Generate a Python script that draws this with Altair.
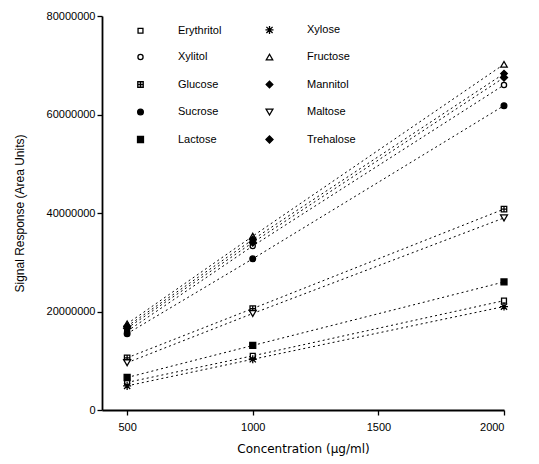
import altair as alt
import pandas as pd

concentrations = [500, 1000, 2000]

# Signal responses (area units), per sugar, at 500 / 1000 / 2000 ug/ml
erythritol = [5.6e6, 11.0e6, 22.2e6]
xylitol = [16.0e6, 33.3e6, 66.0e6]
glucose = [10.6e6, 20.6e6, 40.8e6]
sucrose = [15.5e6, 30.7e6, 61.8e6]
lactose = [6.6e6, 13.1e6, 26.0e6]
xylose = [4.9e6, 10.3e6, 21.0e6]
fructose = [17.5e6, 35.3e6, 70.2e6]
mannitol = [17.0e6, 34.6e6, 68.3e6]
maltose = [9.6e6, 19.6e6, 39.0e6]
trehalose = [16.6e6, 34.0e6, 67.5e6]

series = {
    "Erythritol": erythritol, "Xylitol": xylitol, "Glucose": glucose,
    "Sucrose": sucrose, "Lactose": lactose,
    "Xylose": xylose, "Fructose": fructose, "Mannitol": mannitol,
    "Maltose": maltose, "Trehalose": trehalose,
}
order = list(series.keys())

shapes = [
    "square",
    "circle",
    "M-1,-1H1V1H-1ZM0,-1V1M-1,0H1",
    "circle",
    "square",
    "M-1,-1L1,1M1,-1L-1,1M0,-1.3V1.3M-1.3,0H1.3",
    "triangle-up",
    "diamond",
    "triangle-down",
    "diamond",
]
fills = ["white", "white", "white", "black", "black",
         "black", "white", "black", "white", "black"]
sizes = [24, 50, 50, 50, 50, 50, 50, 50, 50, 60]

rows = []
for name, vals in series.items():
    for c, v in zip(concentrations, vals):
        rows.append({"Sugar": name, "Concentration": c, "Signal": v})
df = pd.DataFrame(rows)

FONT = "Liberation Sans"

x = alt.X("Concentration:Q",
          scale=alt.Scale(domain=[400, 2000], nice=False, zero=False),
          axis=alt.Axis(values=[500, 1000, 1500, 2000], format="d",
                        title="Concentration (µg/ml)", titleFont="DejaVu Sans",
                        titleFontWeight="normal", titleFontSize=12,
                        titlePadding=11, labelPadding=6))
y = alt.Y("Signal:Q",
          scale=alt.Scale(domain=[0, 80000000], nice=False),
          axis=alt.Axis(values=[0, 20000000, 40000000, 60000000, 80000000],
                        format="d", title="Signal Response (Area Units)",
                        titleFontWeight="normal", titleFontSize=12,
                        titlePadding=20))

lines = alt.Chart(df).mark_line(color="black", strokeDash=[2, 3], strokeWidth=1).encode(
    x=x, y=y, detail="Sugar:N"
)

legend = alt.Legend(title=None, orient="none", legendX=33, legendY=8,
                    columns=2, direction="vertical", symbolStrokeWidth=1.3,
                    labelFont=FONT, labelFontSize=11, labelOffset=32,
                    rowPadding=13.5, columnPadding=35, gridAlign="all")

points = alt.Chart(df).mark_point(strokeWidth=1.3, opacity=1,
                                   filled=False).encode(
    x=x, y=y,
    shape=alt.Shape("Sugar:N", scale=alt.Scale(domain=order, range=shapes), legend=legend),
    fill=alt.Fill("Sugar:N", scale=alt.Scale(domain=order, range=fills), legend=legend),
    stroke=alt.Stroke("Sugar:N", scale=alt.Scale(domain=order, range=["black"] * 10), legend=legend),
    size=alt.Size("Sugar:N", scale=alt.Scale(domain=order, range=sizes), legend=legend),
)

chart = (lines + points).properties(
    width=402, height=394, background="white",
    padding={"left": 5, "top": 2, "right": 5, "bottom": 5}
).configure_view(
    stroke=None
).configure_axis(
    grid=False, domainColor="black", domainWidth=1.8, tickColor="black",
    tickWidth=1.3, tickSize=5, labelFont=FONT, labelFontSize=11,
    labelColor="black", titleFont=FONT, titleColor="black"
)

chart.save("out.html", embed_options={"renderer": "svg", "actions": False})
